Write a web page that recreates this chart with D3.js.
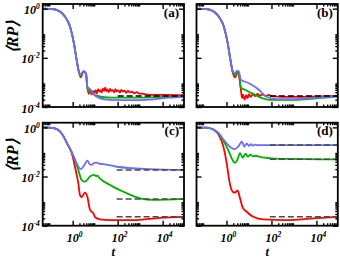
<!DOCTYPE html>
<html><head><meta charset="utf-8">
<script src="https://cdn.jsdelivr.net/npm/d3@7"></script>
<style>html,body{margin:0;padding:0;background:#fff;overflow:hidden}</style>
</head><body>
<svg id="chart" width="340" height="259"></svg>
<script>
// ---------------- data ----------------
const panelIds = ["a", "b", "c", "d"];
const xMajorExp = [0, 2, 4];
const yMajorExp = [0, -2, -4];
const minorMult = [2, 3, 4, 5, 6, 7, 8, 9];
const xLabel = "t";
const yLabel = "\u27E8RP\u27E9";

// each series: [t, <RP>] pairs
const redA = [[0.05,1],[0.12,0.97],[0.19,0.89],[0.3,0.72],[0.46,0.47],[0.76,0.19],[1.14,0.039],[1.5,8.2e-3],[1.9,2.6e-3],[2.3,1.6e-3],[3.0,2.8e-3],[3.9,2.3e-3],[4.5,6.3e-4],[5.2,3.4e-4],[6.0,5.0e-4],[7.0,3.2e-4],[8.0,4.4e-4],[9.2,3.8e-4],[10.5,4.9e-4],[12,3.6e-4],[13.5,5.3e-4],[15,4.3e-4],[17,4.8e-4],[19.5,3.9e-4],[22,5.6e-4],[25,4.6e-4],[28,6.1e-4],[31,4.4e-4],[35,5.2e-4],[40,4.0e-4],[46,5.5e-4],[52,4.5e-4],[60,4.9e-4],[70,3.9e-4],[80,5.3e-4],[92,4.3e-4],[105,4.7e-4],[125,3.9e-4],[145,5.0e-4],[170,4.2e-4],[200,4.6e-4],[240,3.8e-4],[290,4.5e-4],[350,3.9e-4],[430,4.2e-4],[550,3.6e-4],[700,4.0e-4],[900,3.5e-4],[1200,3.5e-4],[2000,3.2e-4],[4000,3.1e-4],[1e4,3.1e-4],[9e4,3.0e-4]];
const greenA = [[0.05,1],[0.12,0.97],[0.19,0.89],[0.3,0.72],[0.46,0.47],[0.76,0.19],[1.14,0.039],[1.5,8.2e-3],[1.9,2.65e-3],[2.3,1.8e-3],[3.0,2.85e-3],[3.9,2.3e-3],[4.5,6.0e-4],[5.3,4.2e-4],[6.3,5.0e-4],[8.3,3.4e-4],[12,2.9e-4],[20,2.55e-4],[60,2.4e-4],[500,2.4e-4],[5000,2.5e-4],[9e4,2.7e-4]];
const blueA = [[0.05,1],[0.12,0.97],[0.19,0.89],[0.3,0.72],[0.46,0.47],[0.76,0.19],[1.14,0.039],[1.5,8.2e-3],[1.9,2.7e-3],[2.3,2.05e-3],[3.0,2.9e-3],[3.9,2.35e-3],[4.5,6.5e-4],[5.9,5.3e-4],[8.3,3.4e-4],[16,2.25e-4],[45,1.95e-4],[500,1.9e-4],[2500,2.0e-4],[2e4,2.4e-4],[9e4,2.6e-4]];

const redB = [[0.05,1],[0.12,0.97],[0.19,0.89],[0.3,0.72],[0.46,0.47],[0.76,0.19],[1.14,0.039],[1.5,8.2e-3],[1.9,2.5e-3],[2.3,1.6e-3],[2.7,1.9e-3],[3.1,2.8e-3],[3.6,2.0e-3],[4.3,5.8e-4],[4.9,2.3e-4],[5.5,3.2e-4],[6.4,2.0e-4],[7.5,3.0e-4],[8.6,2.3e-4],[10,3.3e-4],[12,2.6e-4],[15,3.3e-4],[19,2.8e-4],[24,3.4e-4],[30,2.9e-4],[40,3.3e-4],[55,2.8e-4],[75,3.1e-4],[110,2.7e-4],[300,2.6e-4],[3000,2.6e-4],[9e4,2.8e-4]];
const greenB = [[0.05,1],[0.12,0.97],[0.19,0.89],[0.3,0.72],[0.46,0.47],[0.76,0.19],[1.14,0.039],[1.5,8.2e-3],[1.9,2.8e-3],[2.3,2.0e-3],[3.1,2.9e-3],[3.6,2.2e-3],[4.3,6.3e-4],[7,4.9e-4],[14,3.6e-4],[40,2.25e-4],[80,1.95e-4],[1000,1.95e-4],[1e4,2.25e-4],[9e4,2.7e-4]];
const blueB = [[0.05,1],[0.12,0.97],[0.19,0.89],[0.3,0.72],[0.46,0.47],[0.76,0.19],[1.14,0.039],[1.5,8.2e-3],[1.9,2.9e-3],[2.3,2.4e-3],[3.1,3.0e-3],[3.6,2.7e-3],[4.3,1.3e-3],[10,9.3e-4],[26,5.3e-4],[60,2.6e-4],[170,2.1e-4],[1000,2.1e-4],[1e4,2.4e-4],[9e4,2.8e-4]];

const redC = [[0.05,1],[0.12,0.96],[0.2,0.85],[0.3,0.62],[0.38,0.45],[0.6,0.2],[0.91,0.09],[1.26,0.025],[1.78,5.3e-3],[2.1,1.8e-3],[2.5,1.44e-3],[3.5,2.2e-3],[4.5,1.5e-3],[5.9,4.4e-4],[8.3,3.2e-4],[10,2.2e-4],[16,1.8e-4],[46,1.7e-4],[490,1.7e-4],[7600,2.1e-4],[9e4,2.3e-4]];
const greenC = [[0.05,1],[0.12,0.96],[0.2,0.85],[0.3,0.62],[0.38,0.45],[0.6,0.2],[0.91,0.095],[1.26,0.045],[1.78,0.0185],[2.5,7.2e-3],[3.5,6.2e-3],[5.9,0.010],[8.9,0.0116],[11,0.0104],[12.5,0.0108],[16,8.5e-3],[46,4.5e-3],[250,2.1e-3],[980,1.3e-3],[3800,1.12e-3],[9e4,1.23e-3]];
const blueC = [[0.05,1],[0.12,0.96],[0.2,0.85],[0.3,0.62],[0.38,0.45],[0.6,0.2],[0.91,0.1],[1.5,0.035],[2.3,0.02],[3.2,0.028],[4.5,0.044],[5.8,0.031],[6.9,0.030],[9,0.036],[11.7,0.037],[16,0.033],[23,0.032],[91,0.025],[2750,0.02],[9e4,0.0185]];

const redD = [[0.05,1],[0.12,0.97],[0.2,0.9],[0.3,0.75],[0.45,0.5],[0.72,0.17],[1.02,0.035],[1.32,7.2e-3],[1.7,2.8e-3],[2.24,2.2e-3],[3.16,2.65e-3],[4,1.3e-3],[5.2,5.6e-4],[7.9,3.7e-4],[15.5,2.3e-4],[43,1.8e-4],[470,1.7e-4],[7200,2.0e-4],[9e4,2.3e-4]];
const greenD = [[0.05,1],[0.12,0.97],[0.2,0.9],[0.3,0.77],[0.45,0.56],[0.72,0.29],[1.2,0.12],[1.7,0.055],[2.4,0.036],[3.1,0.05],[4.0,0.089],[5.3,0.058],[7.0,0.085],[9,0.064],[11.5,0.078],[15,0.066],[20,0.07],[31,0.063],[100,0.055],[470,0.052],[9e4,0.05]];
const blueD = [[0.05,1],[0.12,0.97],[0.2,0.9],[0.3,0.78],[0.45,0.58],[0.72,0.33],[1.2,0.19],[1.7,0.145],[2.4,0.13],[3.4,0.17],[4.8,0.26],[6.3,0.165],[8.0,0.225],[10,0.175],[12.5,0.21],[15,0.18],[19,0.2],[25,0.19],[40,0.19],[9e4,0.19]];

const panelSeries = [[redA, greenA, blueA], [redB, greenB, blueB], [redC, greenC, blueC], [redD, greenD, blueD]];
const dashStartT = [100, 85, 90, 85];
const dashEndT = 9e4;
const dashValues = [[2.8e-4], [2.8e-4], [0.0185, 1.23e-3, 2.3e-4], [0.19, 0.05, 2.3e-4]];

// ---------------- layout / style ----------------
const colors = ["#ff0000", "#00b000", "#6b6bff"];
const dashColors = ["#000", "#000", "#4a4a4a", "#4a4a4a"];
const colX = [42.7, 196.5], panelW = 141.3;
const rowY = [4, 122.7], panelH = 103;
const xDomain = [Math.pow(10, -1.333), Math.pow(10, 4.95)];
const yDomain = [1e-4, Math.pow(10, 0.19)];
const serif = "'Liberation Serif','Times New Roman',serif";

const svg = d3.select("#chart");

panelIds.forEach((id, i) => {
  const col = i % 2, row = Math.floor(i / 2);
  const x0 = colX[col], y0 = rowY[row], x1 = x0 + panelW, y1 = y0 + panelH;
  const x = d3.scaleLog().domain(xDomain).range([x0, x1]);
  const y = d3.scaleLog().domain(yDomain).range([y1, y0]);

  const xMaj = xMajorExp.map(e => Math.pow(10, e));
  const xMin = [];
  [-2, 0, 2, 4].forEach(e => minorMult.forEach(m => { const v = m * Math.pow(10, e); if (v >= xDomain[0] && v <= xDomain[1]) xMin.push(v); }));
  const yMaj = yMajorExp.map(e => Math.pow(10, e));
  const yMin = [];
  yMajorExp.forEach(e => minorMult.forEach(m => { const v = m * Math.pow(10, e); if (v >= yDomain[0] && v <= yDomain[1]) yMin.push(v); }));

  const g = svg.append("g");
  const clipId = "clip" + id;
  g.append("clipPath").attr("id", clipId).append("rect")
    .attr("x", x0).attr("y", y0).attr("width", panelW).attr("height", panelH);

  const data = panelSeries[i];
  const line = d3.line().x(d => x(d[0])).y(d => y(d[1])).curve(d3.curveMonotoneX);
  const plot = g.append("g").attr("clip-path", `url(#${clipId})`);
  data.forEach((s, k) => {
    plot.append("path").datum(s).attr("d", line)
      .attr("fill", "none").attr("stroke", colors[k]).attr("stroke-width", 1.8)
      .attr("stroke-linejoin", "round");
  });
  dashValues[i].forEach(v => {
    plot.append("path").datum([[dashStartT[i], v], [dashEndT, v]]).attr("d", d3.line().x(d => x(d[0])).y(d => y(d[1])))
      .attr("stroke", dashColors[i]).attr("stroke-width", 1.5).attr("stroke-dasharray", "6,3").attr("fill", "none");
  });

  // ticks on all four sides, inward
  const addAxis = (axisFn, scale, vals, len, tx, ty) => {
    const a = g.append("g").attr("transform", `translate(${tx},${ty})`)
      .call(axisFn(scale).tickValues(vals).tickSize(-len).tickFormat(""));
    a.select(".domain").remove();
    a.selectAll("line").attr("stroke", "#000").attr("stroke-width", 1.4);
  };
  addAxis(d3.axisBottom, x, xMaj, 5, 0, y1);
  addAxis(d3.axisBottom, x, xMin, 2.5, 0, y1);
  addAxis(d3.axisTop, x, xMaj, 5, 0, y0);
  addAxis(d3.axisTop, x, xMin, 2.5, 0, y0);
  addAxis(d3.axisLeft, y, yMaj, 5, x0, 0);
  addAxis(d3.axisLeft, y, yMin, 2.5, x0, 0);
  addAxis(d3.axisRight, y, yMaj, 5, x1, 0);
  addAxis(d3.axisRight, y, yMin, 2.5, x1, 0);

  g.append("rect").attr("x", x0).attr("y", y0).attr("width", panelW).attr("height", panelH)
    .attr("fill", "none").attr("stroke", "#000").attr("stroke-width", 1.8);

  // panel label
  g.append("text").attr("x", x1 - 5).attr("y", y0 + 12.5).attr("text-anchor", "end")
    .attr("font-family", serif).attr("font-weight", "bold").attr("font-size", 13)
    .text(`(${id})`);

  // y tick labels (left column)
  if (col === 0) {
    yMajorExp.forEach(e => {
      const t = g.append("text").attr("x", x0 - 3).attr("y", y(Math.pow(10, e)) + 5.5)
        .attr("text-anchor", "end").attr("font-family", serif).attr("font-weight", "bold")
        .attr("font-style", "italic").attr("font-size", 12);
      t.append("tspan").text("10");
      t.append("tspan").attr("dy", -5).attr("font-size", 7.5).text(e === 0 ? "0" : "-" + Math.abs(e));
    });
    g.append("text").attr("transform", `translate(17.5,${y0 + 33}) rotate(-90)`)
      .attr("text-anchor", "middle").attr("font-family", serif).attr("font-weight", "bold")
      .attr("font-style", "italic").attr("font-size", 16).text(yLabel);
  }
  // x tick labels (bottom row)
  if (row === 1) {
    xMajorExp.forEach(e => {
      const t = g.append("text").attr("x", x(Math.pow(10, e)) + 2).attr("y", 242)
        .attr("text-anchor", "middle").attr("font-family", serif).attr("font-weight", "bold")
        .attr("font-style", "italic").attr("font-size", 12);
      t.append("tspan").text("10");
      t.append("tspan").attr("dy", -5).attr("font-size", 7.5).text(String(e));
    });
    g.append("text").attr("x", (x0 + x1) / 2).attr("y", 256).attr("text-anchor", "middle")
      .attr("font-family", serif).attr("font-weight", "bold").attr("font-style", "italic")
      .attr("font-size", 12.5).text(xLabel);
  }
});
</script>
</body></html>
